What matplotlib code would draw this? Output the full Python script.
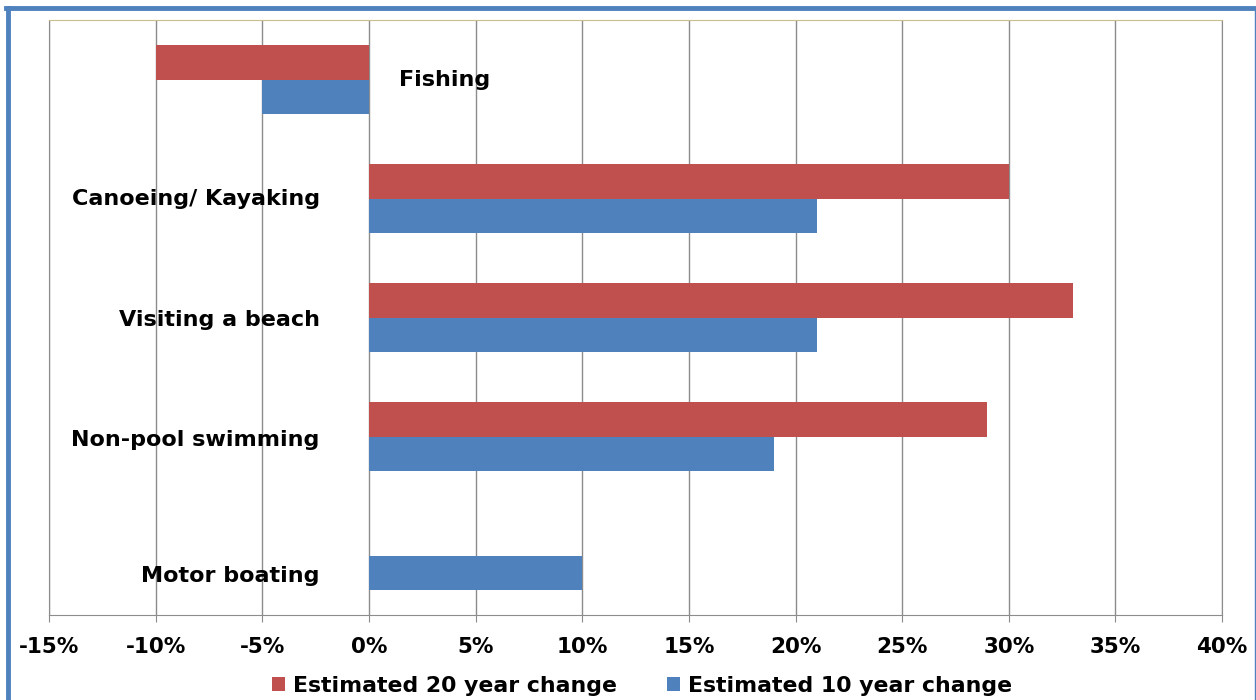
"""
Estimated change in participation for water-based recreation.
"""
import matplotlib.pyplot as plt
from matplotlib.lines import Line2D
from matplotlib.ticker import FuncFormatter

activities = ['Fishing', 'Canoeing/ Kayaking', 'Visiting a beach',
              'Non-pool swimming', 'Motor boating']
change_20yr = [-10, 30, 33, 29, 0]
change_10yr = [-5, 21, 21, 19, 10]

RED = '#C0504D'
BLUE = '#4F81BD'
GRID = '#8C8C8C'
FONT = 'DejaVu Sans'

fig = plt.figure(figsize=(12.56, 7.0), dpi=100)
ax = fig.add_axes([0.039, 0.1214, 0.934, 0.85])

h = 0.29
ypos = list(range(len(activities)))
ax.barh([y - h / 2 for y in ypos], change_20yr, height=h, color=RED,
        label='Estimated 20 year change', zorder=3)
ax.barh([y + h / 2 for y in ypos], change_10yr, height=h, color=BLUE,
        label='Estimated 10 year change', zorder=3)

ax.set_xlim(-15, 40)
ax.set_ylim(len(activities) - 0.5, -0.5)
ax.set_xticks(range(-15, 41, 5))
ax.xaxis.set_major_formatter(FuncFormatter(lambda v, p: f'{v:.0f}%'))
ax.set_yticks([])
ax.grid(axis='x', color=GRID, linewidth=1.0, zorder=0)

for side in ('left', 'bottom', 'right'):
    ax.spines[side].set_color(GRID)
ax.spines['top'].set_color('#C9BF8E')
ax.tick_params(axis='x', direction='out', length=5, color=GRID, pad=11,
               labelsize=15.5)
for lbl in ax.get_xticklabels():
    lbl.set_fontweight('bold')
    lbl.set_fontfamily(FONT)

# category names sit beside the zero line rather than on a y axis
label_dy = [0.0, 0.0, 0.02, 0.03, 0.17]
for i, name in enumerate(activities):
    if change_20yr[i] < 0:
        ax.text(1.4, i + label_dy[i], name, ha='left', va='center',
                fontsize=16, fontweight='bold', fontfamily=FONT)
    else:
        ax.text(-2.3, i + label_dy[i], name, ha='right', va='center',
                fontsize=16, fontweight='bold', fontfamily=FONT)

fig.legend(loc='center', bbox_to_anchor=(0.511, 0.02), ncol=2, frameon=False,
           handlelength=0.6, handleheight=0.6, handletextpad=0.35,
           columnspacing=2.3, prop={'family': FONT, 'weight': 'bold', 'size': 15.8})

# blue frame: heavy on the left and top, thin on the right
W, H = 1256, 700
fig.add_artist(Line2D([7.5 / W, 7.5 / W], [0, 1 - 7.5 / H], color=BLUE,
                      linewidth=3.5, transform=fig.transFigure))
fig.add_artist(Line2D([6 / W, 1254.5 / W], [1 - 7.5 / H, 1 - 7.5 / H],
                      color=BLUE, linewidth=3.5, transform=fig.transFigure))
fig.add_artist(Line2D([1254.5 / W, 1254.5 / W], [0, 1 - 7.5 / H], color=BLUE,
                      linewidth=1.0, transform=fig.transFigure))

fig.savefig('out.png', dpi=100)
